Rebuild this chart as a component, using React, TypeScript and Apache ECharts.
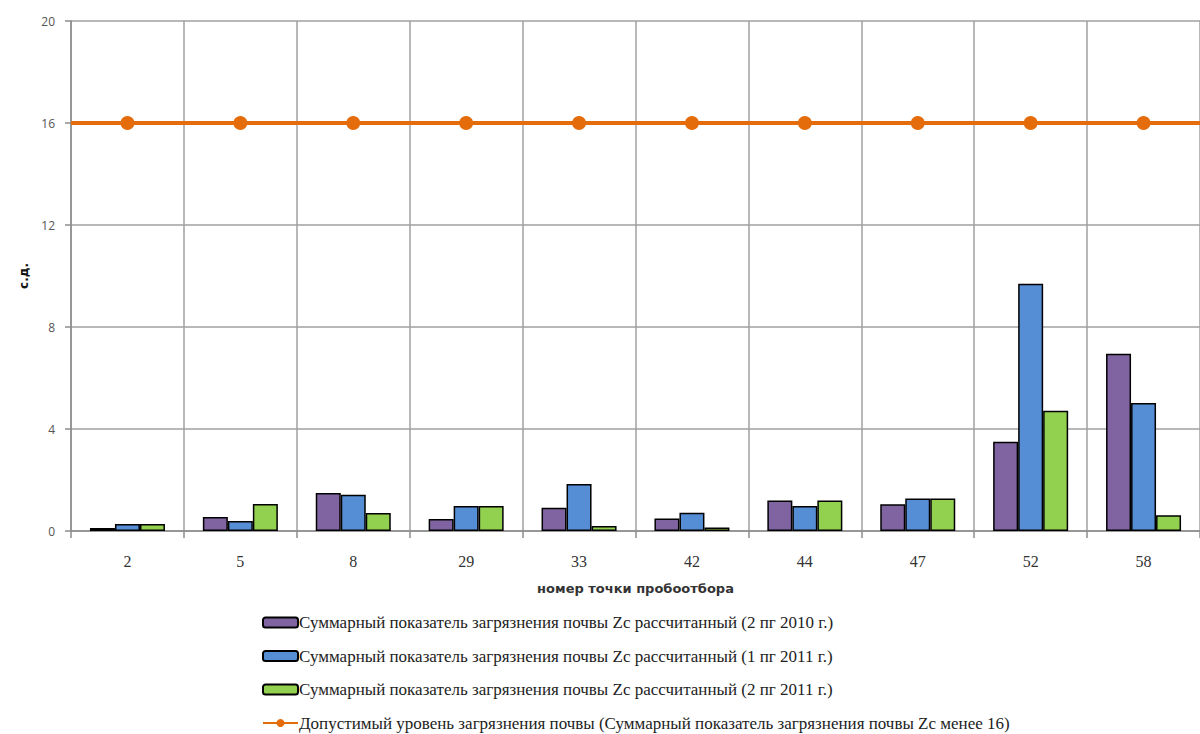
import React, { useEffect, useRef } from "react";
import * as echarts from "echarts";

const categories = ["2", "5", "8", "29", "33", "42", "44", "47", "52", "58"];
const zc2010h2 = [0.12, 0.55, 1.49, 0.47, 0.91, 0.49, 1.2, 1.05, 3.5, 6.95];
const zc2011h1 = [0.27, 0.39, 1.42, 0.98, 1.84, 0.72, 0.98, 1.27, 9.7, 5.02];
const zc2011h2 = [0.27, 1.06, 0.71, 0.98, 0.2, 0.14, 1.2, 1.27, 4.72, 0.62];
const limitValues = [16, 16, 16, 16, 16, 16, 16, 16, 16, 16];

const seriesNames = [
  "Суммарный показатель загрязнения почвы Zc рассчитанный (2 пг 2010 г.)",
  "Суммарный показатель загрязнения почвы Zc рассчитанный (1 пг 2011 г.)",
  "Суммарный показатель загрязнения почвы Zc рассчитанный (2 пг 2011 г.)",
  "Допустимый уровень загрязнения почвы (Суммарный показатель загрязнения почвы Zc менее 16)",
];
const barColors = ["#8064A2", "#558ED5", "#92D050"];
const lineColor = "#E46C0A";

export default function App() {
  const ref = useRef<HTMLDivElement>(null);
  useEffect(() => {
    if (!ref.current) return;
    const chart = echarts.init(ref.current, null, { renderer: "svg" });
    const barData = [zc2010h2, zc2011h1, zc2011h2];
    const bars = barData.map((d, i) => ({
      name: seriesNames[i],
      type: "bar",
      data: d,
      barWidth: 25,
      barGap: "0%",
      itemStyle: { color: barColors[i], borderColor: "#000", borderWidth: 1.5 },
    }));
    chart.setOption({
      animation: false,
      backgroundColor: "#fff",
      grid: { left: 71, top: 21, right: -7, bottom: 203 },
      legend: {
        orient: "vertical",
        left: 262,
        top: 614,
        padding: 0,
        height: 120,
        itemWidth: 35,
        itemHeight: 10,
        itemGap: 16.5,
        textStyle: { fontFamily: "Liberation Serif", fontSize: 17, color: "#222", padding: [0, 0, 0, -4] },
        data: seriesNames,
      },
      xAxis: {
        type: "category",
        data: categories,
        name: "номер точки пробоотбора",
        nameLocation: "middle",
        nameGap: 51,
        nameTextStyle: { fontFamily: "DejaVu Sans", fontWeight: "bold", fontSize: 13, color: "#333" },
        axisLine: { lineStyle: { color: "#8c8c8c", width: 1.5 } },
        axisTick: { show: true, length: 7, lineStyle: { color: "#8c8c8c", width: 1.5 } },
        axisLabel: { fontFamily: "Liberation Serif", fontSize: 16, color: "#333", margin: 22 },
        splitLine: { show: true, lineStyle: { color: "#a0a0a0", width: 1.5 } },
      },
      yAxis: {
        type: "value",
        min: 0,
        max: 20,
        interval: 4,
        name: "с.д.",
        nameLocation: "middle",
        nameGap: 40,
        nameTextStyle: { fontFamily: "DejaVu Sans", fontWeight: "bold", fontSize: 12, color: "#111" },
        axisLine: { show: true, lineStyle: { color: "#8c8c8c", width: 1.5 } },
        axisTick: { show: true, length: 6, lineStyle: { color: "#8c8c8c", width: 1.5 } },
        axisLabel: { fontFamily: "Open Sans", fontSize: 12, color: "#555", margin: 16 },
        splitLine: { show: true, lineStyle: { color: "#a0a0a0", width: 1.5 } },
      },
      series: [
        ...bars,
        {
          name: seriesNames[3],
          type: "line",
          data: limitValues,
          symbol: "circle",
          symbolSize: 14,
          itemStyle: { color: lineColor },
          lineStyle: { color: lineColor, width: 4 },
          z: 5,
          markLine: {
            silent: true,
            symbol: "none",
            label: { show: false },
            lineStyle: { color: lineColor, width: 4, type: "solid" },
            data: [{ yAxis: 16 }],
          },
        },
      ],
    });
    return () => chart.dispose();
  }, []);
  return (
    <div style={{ position: "fixed", left: 0, top: 0, width: 1200, height: 734, overflow: "hidden", background: "#fff" }}>
      <div ref={ref} style={{ width: 1200, height: 734 }} />
    </div>
  );
}
